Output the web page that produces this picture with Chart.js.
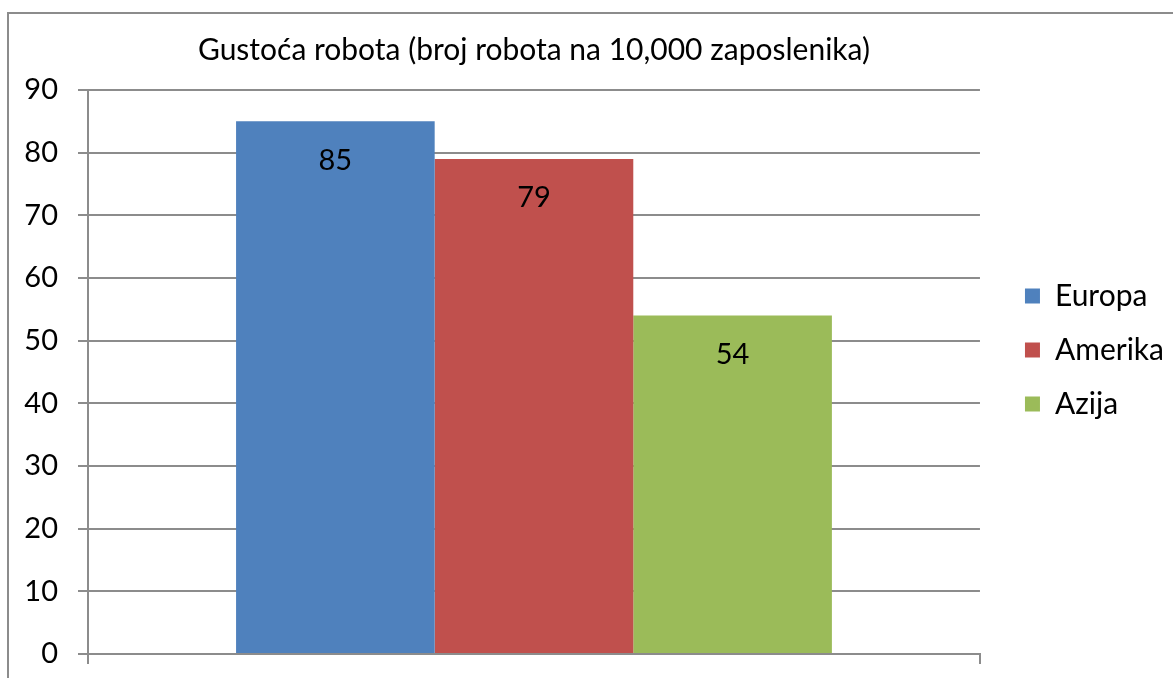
<!DOCTYPE html>
<html>
<head>
<meta charset="utf-8">
<script src="https://cdn.jsdelivr.net/npm/chart.js@4.4.1/dist/chart.umd.min.js"></script>
<style>
  html, body { margin: 0; padding: 0; background: #fff; overflow: hidden; }
  #frame { position: absolute; left: 7px; top: 12px; width: 2000px; height: 2000px; border: 2px solid #8c8c8c; }
  #robotChart { position: absolute; left: 0; top: 0; }
</style>
</head>
<body>
<div id="frame"></div>
<canvas id="robotChart" width="1173" height="678"></canvas>
<script>
// Chart data
const regions = ['Europa', 'Amerika', 'Azija'];
const robotDensity = [85, 79, 54];
const regionColors = ['#4F81BD', '#C0504D', '#9BBB59'];
const yTicks = [0, 10, 20, 30, 40, 50, 60, 70, 80, 90];

const fontFamily = 'Lato, "Open Sans", sans-serif';
const gridColor = '#8c8c8c';

// Write the value inside the top of each bar
const valueLabels = {
    id: 'valueLabels',
    afterDatasetsDraw(chart) {
        const ctx = chart.ctx;
        ctx.save();
        ctx.font = '29px ' + fontFamily;
        ctx.fillStyle = '#000';
        ctx.textAlign = 'center';
        ctx.textBaseline = 'middle';
        chart.data.datasets.forEach((ds, i) => {
            chart.getDatasetMeta(i).data.forEach((bar, j) => {
                ctx.fillText(ds.data[j], bar.x, bar.y + 39);
            });
        });
        ctx.restore();
    }
};

// Nudge the legend so it sits like the original one
const legendShift = {
    id: 'legendShift',
    afterLayout(chart) {
        const lg = chart.legend;
        lg.left += 21; lg.right += 21;
        lg.top += 18; lg.bottom += 18;
    }
};

const ctx = document.getElementById('robotChart').getContext('2d');

new Chart(ctx, {
    type: 'bar',
    data: {
        labels: [''],
        datasets: regions.map((name, i) => ({
            label: name,
            data: [robotDensity[i]],
            backgroundColor: regionColors[i],
            borderWidth: 0
        }))
    },
    options: {
        responsive: false,
        animation: false,
        devicePixelRatio: 1,
        layout: { padding: { left: 0, right: 20, top: 0, bottom: 14 } },
        datasets: {
            bar: { categoryPercentage: 0.668, barPercentage: 1 }
        },
        scales: {
            x: {
                afterFit(scale) { scale.height = 10; },
                grid: {
                    display: true,
                    drawOnChartArea: false,
                    drawTicks: true,
                    tickLength: 10,
                    color: gridColor,
                    lineWidth: 2
                },
                border: { display: true, color: gridColor, width: 2 },
                ticks: { display: false }
            },
            y: {
                min: 0,
                max: 90,
                afterFit(scale) {
                    scale.width = 88;
                    scale.paddingTop = 0;
                    scale.paddingBottom = 0;
                },
                afterBuildTicks(scale) { scale.ticks = yTicks.map(v => ({ value: v })); },
                grid: {
                    color: gridColor,
                    lineWidth: 2,
                    drawTicks: true,
                    tickLength: 10
                },
                border: { display: true, color: gridColor, width: 2 },
                ticks: {
                    padding: 20,
                    color: '#000',
                    font: { family: fontFamily, size: 29 }
                }
            }
        },
        plugins: {
            title: {
                display: true,
                text: 'Gustoća robota (broj robota na 10,000 zaposlenika)',
                fullSize: false,
                color: '#000',
                font: { family: fontFamily, size: 30, weight: 'normal' },
                padding: { top: 32, bottom: 22 }
            },
            legend: {
                position: 'right',
                labels: {
                    boxWidth: 15,
                    boxHeight: 15,
                    padding: 24,
                    color: '#000',
                    font: { family: fontFamily, size: 30 }
                }
            },
            tooltip: { enabled: false }
        }
    },
    plugins: [valueLabels, legendShift]
});
</script>
</body>
</html>
